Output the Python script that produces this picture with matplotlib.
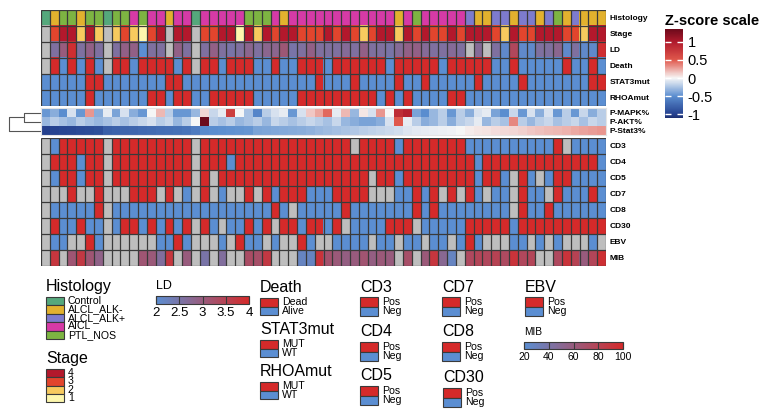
import numpy as np
import matplotlib
matplotlib.use("Agg")
import matplotlib.pyplot as plt
from matplotlib.colors import LinearSegmentedColormap, Normalize, to_rgb
from matplotlib.cm import ScalarMappable
from matplotlib.patches import Rectangle

plt.rcParams.update({
    "font.family": ["Liberation Sans", "DejaVu Sans"],
    "axes.unicode_minus": False,
})

W, H = 769, 416
nan = np.nan

# ---------------- data (64 samples) ----------------
HISTOLOGY = ("C AN PT PT AN PT PT C PT PT AI PT AI AI AN AI "
             "AI C AI AI AI AI AI PT PT PT AI AN AI AI AI AI "
             "AI AI AI AI AI AI AI AI AN AI PT AI AI AI AI AI "
             "AP AN AN AP AP AN AP AP AN AP PT AN AP AN AN AN").split()
STAGE = [0, 3, 4, 4, 2, 4, 2, 0, 2, 3, 2, 1, 3, 4, 0, 4,
         4, 0, 3, 3, 4, 4, 1, 4, 2, 4, 3, 4, 4, 3, 3, 3,
         4, 3, 4, 3, 2, 3, 4, 4, 2, 4, 3, 4, 3, 3, 4, 3,
         4, 4, 4, 3, 2, 4, 3, 3, 4, 4, 4, 3, 3, 2, 4, 4]
LD = [nan, 2.6, 3.0, 3.9, 2.6, 2.9, 2.6, nan, 2.6, 2.9, 2.9, 2.0, 2.6, 2.6, nan, 2.9,
      2.6, nan, 2.6, 2.9, 2.6, 2.5, 2.6, 2.8, 2.6, 2.8, 2.8, 3.1, 2.5, 2.6, 2.9, 2.6,
      2.6, 2.6, 2.7, 2.6, 2.9, 2.6, 2.6, 2.5, 2.7, 2.9, 2.9, 2.7, 2.6, 2.6, 2.7, 2.6,
      nan, 2.7, nan, 2.6, 2.1, 3.4, 2.1, 2.1, 2.6, 2.6, 2.8, 2.1, 2.6, 2.1, 2.1, 3.9]
DEATH = (". D A D A D A . D D A D D D D A "
         "D . D D A D D D A A D A A D D D "
         "A D D D D D D A D D D D D A D D "
         "D D D A A D A A A A A D A A D A").split()
STAT3MUT = ("W W W W W M M W W W W W W W M M "
            "W W W W W W W W W W W W W W W M "
            "W W W M W W W W M W W M W W W W "
            "W M W W W W M W W W W W W W M M").split()
RHOAMUT = ("W W W W W M W W W W W W M M W M "
           "M W W M M M M M W W W W W M M M "
           "M M M M M M W M W M W W W W M M "
           "W W W W W W W W W W W W W W W W").split()

P_MAPK = [-0.45, -0.35, -0.5, -0.1, -0.45, 0.3, -0.35, -0.05, -0.4, -0.1, -0.35, -0.45, 0.0, 0.2, -0.2, -0.45,
          -0.45, -0.3, 0.1, -0.15, -0.05, 0.7, 0.0, -0.25, -0.55, -0.2, -0.1, -0.05, -0.45, -0.1, 0.15, 0.25,
          0.45, -0.05, 0.2, -0.3, 0.05, -0.1, 0.3, 0.0, 0.85, 0.95, -0.4, -0.5, -0.3, -0.2, -0.45, -0.2,
          -0.35, -0.1, -0.05, -0.4, -0.5, -0.15, -0.45, -0.1, -0.35, -0.1, -0.45, -0.2, -0.45, -0.15, -0.35, -0.2]
P_AKT = [-0.3, -0.2, -0.25, -0.3, -0.2, -0.25, -0.3, -0.25, -0.2, -0.25, -0.2, -0.15, -0.1, -0.2, -0.15, -0.3,
         -0.2, 0.0, 1.35, -0.2, -0.25, -0.2, -0.3, -0.25, -0.2, -0.3, -0.15, -0.2, -0.25, -0.2, -0.15, -0.2,
         -0.25, -0.15, -0.3, -0.35, -0.4, -0.4, -0.35, -0.1, 0.5, -0.05, -0.2, -0.35, -0.3, -0.2, -0.35, -0.2,
         -0.15, -0.05, -0.3, -0.2, -0.25, 0.35, -0.2, -0.3, -0.2, -0.15, -0.25, -0.2, -0.15, -0.25, -0.15, -0.2]
P_STAT3 = [-1.0, -0.98, -0.96, -0.95, -0.93, -0.92, -0.9,
           -0.8, -0.78, -0.76, -0.75, -0.73, -0.72, -0.7, -0.69, -0.68, -0.66, -0.62,
           -0.52, -0.5, -0.49, -0.48, -0.47, -0.46,
           -0.4, -0.39, -0.38, -0.37, -0.36, -0.35, -0.33, -0.3,
           -0.28, -0.26, -0.24, -0.22, -0.2, -0.18, -0.16, -0.14, -0.12,
           -0.08, -0.06, -0.05, -0.04, -0.03, -0.02, 0.0,
           0.03, 0.05, 0.06, 0.08, 0.09, 0.1, 0.12,
           0.15, 0.17, 0.19, 0.2, 0.22, 0.24, 0.26, 0.28, 0.3]
DENDRO_HEIGHTS = [0.41, 0.78]   # MAPK+AKT merge, then +Stat3

# P = Pos, N = Neg, . = missing
CD3  = list(".NPPPPP." "PPPPPPPP" "P.PPPPPP" "PPPPPPPP" "PPP.PPPP" "NPPPPPPP" "NNNNNNNN" "NNP.NNNN")
CD4  = list(".PPPNPP." "PPPPPPPP" "P.PPPNPP" "PPPPPPPP" "PPPPPPPP" "PPPPPPPP" "PNPPPPPP" "PPPPPPPN")
CD5  = list(".NPPNPP." "PPPPPPPP" "P.P.PPPP" "PPPPPPPP" "PPPPP.PP" "NPPPPPPP" "PNPPN.PN" ".NPPNNNN")
CD7  = list("...P..P." "..PPP.P." "N.P.N..P" ".PNPPPNN" "NPPPP..." "NNPNP.P." "PN.NN.PN" "N.PNNNPN")
CD8  = list(".NNNNNP." "NNNNNNNN" "NNNNNNNN" "NNPN.NNN" "NNPNNNNN" "NNPNPNNN" "NNNNN.PN" "NPNNNNNN")
CD30 = list(".PNNPNN." "NPPNPNPN" "P.PN.NNP" "NP.PPNPP" "NP.NNNNP" "PP.NNNNN" "PPPPPNPP" "PPPPPPPP")
EBV  = list(".NN..PN." ".....NNP" "N...N.PN" "N.N..PN." ".NNNN.NN" ".NN.NN.N" "PN...NN." "N.N...N.")
MIB = [nan, 90, nan, 65, 88, 65, 55, nan, nan, nan, nan, 65, 62, 45, 90, nan,
       60, nan, 40, nan, 45, nan, nan, 72, 70, 88, nan, nan, nan, 28, 28, 92,
       68, 62, 58, 60, 66, 58, 62, 60, nan, 70, nan, 62, 90, 50, 28, nan,
       75, 78, 76, 80, 74, 92, 76, 78, nan, nan, 75, 92, 80, 60, 78, 95]

TOP_LABELS = ["Histology", "Stage", "LD", "Death", "STAT3mut", "RHOAmut"]
MID_LABELS = ["P-MAPK%", "P-AKT%", "P-Stat3%"]
BOT_LABELS = ["CD3", "CD4", "CD5", "CD7", "CD8", "CD30", "EBV", "MIB"]

HIST_NAMES = ["Control", "ALCL_ALK-", "ALCL_ALK+", "AICL", "PTL_NOS"]
HIST_CODES = ["C", "AN", "AP", "AI", "PT"]
STAGE_LEVELS = [4, 3, 2, 1]
LD_TICKS = [2, 2.5, 3, 3.5, 4]
MIB_TICKS = [20, 40, 60, 80, 100]
Z_TICKS = [-1, -0.5, 0, 0.5, 1]

# ---------------- colours ----------------
RED, BLUE, GREY, EDGE = "#d52a2a", "#5b8ed2", "#bebebe", "#3a3a3a"
HIST_COLORS = ["#55a87c", "#e2b12e", "#7d7bcd", "#d63aa6", "#7db442"]
STAGE_COLORS = {4: "#b3182c", 3: "#e2452d", 2: "#f7ca5e", 1: "#fdf7ad"}
BIN_COLORS = {"D": RED, "A": BLUE, "M": RED, "W": BLUE, "P": RED, "N": BLUE}
CONT_CMAP = LinearSegmentedColormap.from_list("cont", [BLUE, RED])

Z_MIN, Z_MAX = -1.1, 1.35
Z_NODES = [(-1.1, "#1d2f70"), (-1.0, "#25418f"), (-0.5, "#5b8ed0"), (0.0, "#f7f7f7"),
           (0.5, "#e0584c"), (1.0, "#b01a2c"), (1.35, "#6c0a1b")]
Z_CMAP = LinearSegmentedColormap.from_list(
    "z", [((v - Z_MIN) / (Z_MAX - Z_MIN), c) for v, c in Z_NODES])
Z_NORM = Normalize(Z_MIN, Z_MAX)


def px_axes(fig, x0, y0, x1, y1):
    return fig.add_axes([x0 / W, 1 - y1 / H, (x1 - x0) / W, (y1 - y0) / H])


def cat_rgb(values, palette):
    return [to_rgb(palette.get(v, GREY)) for v in values]


def num_rgb(values, vmin, vmax):
    norm = Normalize(vmin, vmax)
    return [to_rgb(GREY) if np.isnan(v) else CONT_CMAP(norm(v))[:3] for v in values]


def style_rows(ax, labels):
    ax.set_xticks([])
    ax.set_yticks(range(len(labels)))
    ax.set_yticklabels(labels, fontsize=6, fontweight="bold")
    ax.yaxis.tick_right()
    ax.tick_params(length=0, pad=2.5)


def draw_block(ax, rows, labels):
    img = np.array(rows)
    n, m = img.shape[:2]
    ax.imshow(img, aspect="auto", interpolation="nearest")
    ax.vlines(np.arange(m + 1) - 0.5, -0.5, n - 0.5, color=EDGE, lw=0.9)
    ax.hlines(np.arange(n + 1) - 0.5, -0.5, m - 0.5, color=EDGE, lw=0.9)
    ax.set_xlim(-0.5, m - 0.5)
    ax.set_ylim(n - 0.5, -0.5)
    for s in ax.spines.values():
        s.set_visible(False)
    style_rows(ax, labels)


fig = plt.figure(figsize=(W / 100, H / 100), dpi=100)

# top annotation block
hist_pal = dict(zip(HIST_CODES, HIST_COLORS))
top_rows = [cat_rgb(HISTOLOGY, hist_pal), cat_rgb(STAGE, STAGE_COLORS), num_rgb(LD, 2, 4),
            cat_rgb(DEATH, BIN_COLORS), cat_rgb(STAT3MUT, BIN_COLORS), cat_rgb(RHOAMUT, BIN_COLORS)]
ax_top = px_axes(fig, 41, 10, 606, 106)
draw_block(ax_top, top_rows, TOP_LABELS)

# continuous z-score block
ax_mid = px_axes(fig, 41, 108, 606, 135)
ax_mid.imshow(np.array([P_MAPK, P_AKT, P_STAT3]), cmap=Z_CMAP, norm=Z_NORM,
              aspect="auto", interpolation="nearest")
for s in ax_mid.spines.values():
    s.set_color("#e4e4e4")
style_rows(ax_mid, MID_LABELS)

# dendrogram
ax_d = px_axes(fig, 0, 108, 41, 135)
h1, h2 = DENDRO_HEIGHTS
mid01 = 0.5
ax_d.plot([0, h1, h1, 0], [0, 0, 1, 1], color="#555555", lw=0.8)
ax_d.plot([h1, h2, h2, 0], [mid01, mid01, 2, 2], color="#555555", lw=0.8)
ax_d.set_xlim(1.0, 0)
ax_d.set_ylim(2.5, -0.5)
ax_d.axis("off")

# bottom block
bot_rows = [cat_rgb(r, BIN_COLORS) for r in [CD3, CD4, CD5, CD7, CD8, CD30, EBV]]
bot_rows.append(num_rgb(MIB, 20, 100))
ax_bot = px_axes(fig, 41, 138, 606, 266)
draw_block(ax_bot, bot_rows, BOT_LABELS)

# z-score colour bar
fig.text(665 / W, 1 - 21 / H, "Z-score scale", fontsize=10.5, fontweight="bold", va="center")
cax = px_axes(fig, 665, 29, 683, 118)
cb = fig.colorbar(ScalarMappable(norm=Z_NORM, cmap=Z_CMAP), cax=cax, ticks=Z_TICKS)
cb.outline.set_visible(False)
cax.set_yticklabels([f"{t:g}" for t in Z_TICKS])
cax.tick_params(axis="y", direction="in", color="white", length=4, width=1,
                labelsize=10.5, pad=3.5, left=True)

# ---------------- legends ----------------
lg = fig.add_axes([0, 0, 1, 1])
lg.set_xlim(0, W)
lg.set_ylim(H, 0)
lg.axis("off")


def swatch_legend(x, y_title, y_top, title, labels, colors, sw=18, sh=8.4):
    lg.text(x, y_title, title, fontsize=11.5, va="center", ha="left")
    for i, (lab, col) in enumerate(zip(labels, colors)):
        lg.add_patch(Rectangle((x, y_top + i * sh), sw, sh, facecolor=col,
                               edgecolor=EDGE, lw=0.8))
        lg.text(x + sw + 4, y_top + (i + 0.5) * sh, lab, fontsize=7.6,
                va="center", ha="left")


swatch_legend(46, 286, 297, "Histology", HIST_NAMES, HIST_COLORS)
swatch_legend(46, 358, 369, "Stage", [str(s) for s in STAGE_LEVELS],
              [STAGE_COLORS[s] for s in STAGE_LEVELS], sh=8.3)
swatch_legend(260, 287, 298, "Death", ["Dead", "Alive"], [RED, BLUE], sh=8.7)
swatch_legend(260, 329, 340, "STAT3mut", ["MUT", "WT"], [RED, BLUE], sh=8.7)
swatch_legend(260, 371, 382, "RHOAmut", ["MUT", "WT"], [RED, BLUE], sh=8.7)
for x, y, name in [(360, 287, "CD3"), (360, 332, "CD4"), (360, 376, "CD5"),
                   (442, 287, "CD7"), (442, 332, "CD8"), (443, 378, "CD30"),
                   (525, 287, "EBV")]:
    swatch_legend(x, y, y + 10, name, ["Pos", "Neg"], [RED, BLUE], sh=9.5)


def bar_legend(x0, y0, x1, y1, title, vmin, vmax, ticks, tsize, lsize):
    lg.text(x0, y0 - 10, title, fontsize=tsize, va="center", ha="left")
    bax = px_axes(fig, x0, y0, x1, y1)
    b = fig.colorbar(ScalarMappable(norm=Normalize(vmin, vmax), cmap=CONT_CMAP),
                     cax=bax, orientation="horizontal", ticks=ticks)
    b.outline.set_edgecolor(EDGE)
    b.outline.set_linewidth(0.8)
    bax.set_xticklabels([f"{t:g}" for t in ticks])
    bax.tick_params(direction="in", length=(y1 - y0) * 0.72, width=0.8, color=EDGE,
                    labelsize=lsize, pad=2)


bar_legend(156, 296, 249, 304, "LD", 2, 4, LD_TICKS, 9, 9.5)
bar_legend(524, 342, 623, 349, "MIB", 20, 100, MIB_TICKS, 7.3, 7.5)

fig.savefig("out.png", dpi=100, facecolor="white")
